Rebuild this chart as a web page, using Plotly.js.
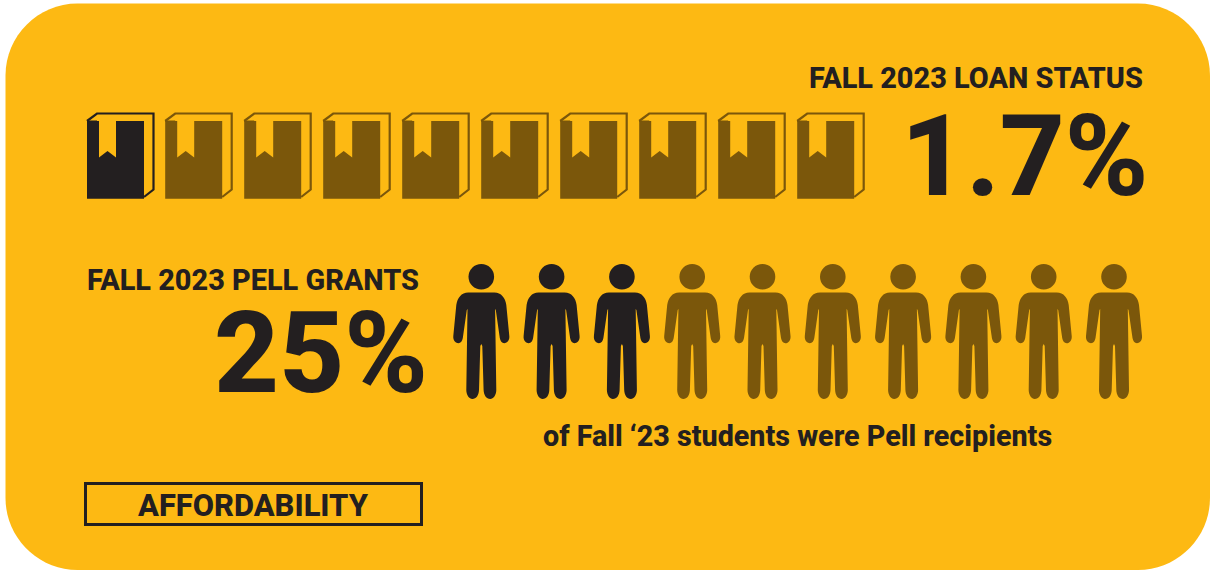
<!DOCTYPE html>
<html>
<head>
<meta charset="utf-8">
<script src="https://cdn.plot.ly/plotly-3.0.1.min.js"></script>
<style>
  html, body { margin: 0; padding: 0; background: #ffffff; }
  #chart { width: 1210px; height: 571px; }
</style>
</head>
<body>
<div id="chart"></div>
<script>
// Figures shown on the affordability panel
const loanIconStates = [1, 0, 0, 0, 0, 0, 0, 0, 0, 0];
const pellIconStates = [1, 1, 1, 0, 0, 0, 0, 0, 0, 0];
const loanHeading = 'FALL 2023 LOAN STATUS';
const loanValue = '1.7%';
const pellHeading = 'FALL 2023 PELL GRANTS';
const pellValue = '25%';
const pellCaption = 'of Fall ‘23 students were Pell recipients';
const panelLabel = 'AFFORDABILITY';

const INK = '#231f20';
const MUTED = '#7b570b';
const PANEL = '#fdb913';
const FONT = 'Roboto, sans-serif';

const shapes = [];

function addPath(path, fill, line, width) {
  shapes.push({
    type: 'path', xref: 'x', yref: 'y', path: path, layer: 'above',
    fillcolor: fill || 'rgba(0,0,0,0)',
    line: { color: line || 'rgba(0,0,0,0)', width: width || 0 }
  });
}

// Rounded panel behind everything
(function panel(l, t, r, b, k) {
  const c = k * 0.45;
  addPath(
    `M${l + k},${t} L${r - k},${t} C${r - c},${t} ${r},${t + c} ${r},${t + k} ` +
    `L${r},${b - k} C${r},${b - c} ${r - c},${b} ${r - k},${b} ` +
    `L${l + k},${b} C${l + c},${b} ${l},${b - c} ${l},${b - k} ` +
    `L${l},${t + k} C${l},${t + c} ${l + c},${t} ${l + k},${t} Z`, PANEL);
})(5.5, 3.5, 1210, 570, 72);

// Book pictogram: cover with a ribbon cut-out plus an outlined page block
function addBook(x, color) {
  const px = (d) => x + d;
  addPath(
    `M${px(0)},121 L${px(12)},121 L${px(12)},157.5 L${px(20.5)},151 L${px(29)},157.5 ` +
    `L${px(29)},121 L${px(57)},121 L${px(57)},198.7 L${px(0)},198.7 Z`, color);
  addPath(
    `M${px(0)},121 L${px(10)},113.5 L${px(66.5)},113.5 L${px(66.5)},189.5 L${px(57)},197`,
    null, color, 2.2);
  addPath(`M${px(0)},121 L${px(10)},121`, null, color, 1);
}
loanIconStates.forEach((on, i) => addBook(i === 0 ? 87 : 165.2 + (i - 1) * 79, on ? INK : MUTED));

// Person pictogram: round head and a symmetric body outline
function addPerson(x, color) {
  const px = (d) => x + d;
  shapes.push({
    type: 'circle', xref: 'x', yref: 'y', layer: 'above',
    x0: px(-12.8), x1: px(12.8), y0: 264, y1: 289.6,
    fillcolor: color, line: { width: 0 }
  });
  addPath(
    `M${px(-13)},292.5 L${px(13)},292.5 C${px(20)},292.5 ${px(24)},298 ${px(25)},305 ` +
    `L${px(28)},336 C${px(28.5)},341 ${px(25)},343.2 ${px(23)},343.2 ` +
    `C${px(20.5)},343.2 ${px(19)},341 ${px(18.5)},338 L${px(14.5)},310 L${px(13.8)},309 ` +
    `L${px(15)},390 C${px(15)},395 ${px(12)},399 ${px(9)},399 ` +
    `C${px(5)},399 ${px(2.5)},395 ${px(2.3)},390 L${px(1)},346 L${px(0)},344 L${px(-1)},346 ` +
    `L${px(-2.3)},390 C${px(-2.5)},395 ${px(-5)},399 ${px(-9)},399 ` +
    `C${px(-12)},399 ${px(-15)},395 ${px(-15)},390 L${px(-13.8)},309 L${px(-14.5)},310 ` +
    `L${px(-18.5)},338 C${px(-19)},341 ${px(-20.5)},343.2 ${px(-23)},343.2 ` +
    `C${px(-25)},343.2 ${px(-28.5)},341 ${px(-28)},336 L${px(-25)},305 ` +
    `C${px(-24)},298 ${px(-20)},292.5 ${px(-13)},292.5 Z`, color);
}
pellIconStates.forEach((on, i) => addPerson(481.3 + i * 70.3, on ? INK : MUTED));

// Label box in the lower left
shapes.push({
  type: 'rect', xref: 'x', yref: 'y', layer: 'above',
  x0: 85.5, x1: 421.5, y0: 483.5, y1: 524.5,
  fillcolor: 'rgba(0,0,0,0)', line: { color: INK, width: 3 }
});

function label(text, x, y, size, anchor) {
  return {
    text: text, x: x, y: y, xref: 'x', yref: 'y', showarrow: false,
    xanchor: anchor, yanchor: 'middle', align: anchor,
    font: { family: FONT, size: size, color: INK, weight: 800 }
  };
}

const annotations = [
  label(loanHeading, 1145, 78, 28.9, 'right'),
  label(loanValue, 1151, 156.5, 113, 'right'),
  label(pellHeading, 421, 280, 28.9, 'right'),
  label(pellValue, 430, 353.5, 113, 'right'),
  label(pellCaption, 797.5, 436, 28.7, 'center'),
  label(panelLabel, 253, 505, 30.9, 'center')
];

Plotly.newPlot('chart', [], {
  width: 1210, height: 571,
  margin: { l: 0, r: 0, t: 0, b: 0 },
  paper_bgcolor: '#ffffff', plot_bgcolor: '#ffffff',
  showlegend: false,
  xaxis: { range: [0, 1210], visible: false, fixedrange: true },
  yaxis: { range: [571, 0], visible: false, fixedrange: true },
  shapes: shapes,
  annotations: annotations
}, { staticPlot: true, displayModeBar: false });
</script>
</body>
</html>
